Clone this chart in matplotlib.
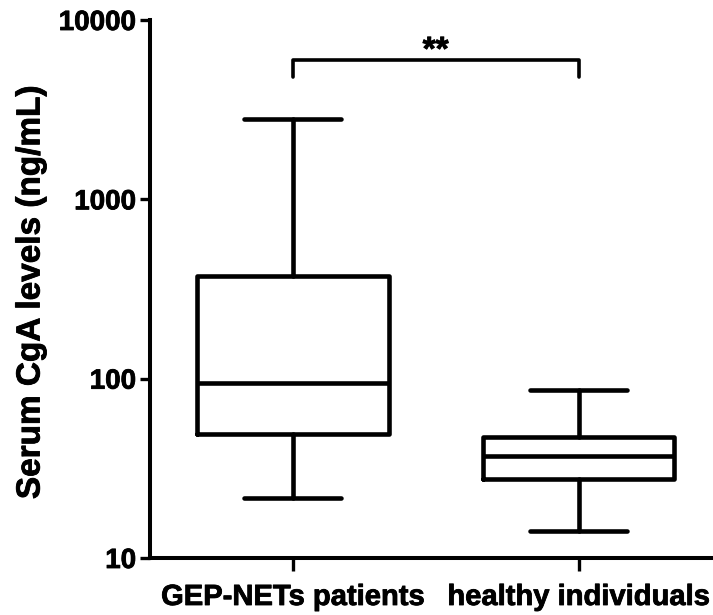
import matplotlib
matplotlib.use("Agg")
import matplotlib.pyplot as plt
import matplotlib.patheffects as pe

# box statistics (ng/mL)
groups = ["GEP-NETs patients", "healthy individuals"]
whisker_low = [21.6, 14.2]
q1 = [49.0, 27.7]
median = [94.0, 37.2]
q3 = [372.0, 47.5]
whisker_high = [2790.0, 86.8]

yticks = [10, 100, 1000, 10000]
ytick_labels = ["10", "100", "1000", "10000"]

bracket_top = 6000
bracket_leg = 4800
sig_label = "**"

plt.rcParams["font.family"] = ["Liberation Sans", "DejaVu Sans"]
plt.rcParams["font.weight"] = "bold"

heavy = [pe.withStroke(linewidth=0.6, foreground="black")]

fig = plt.figure(figsize=(7.13, 6.15), dpi=100)
ax = fig.add_axes([150 / 713, 57 / 615, 563 / 713, 538 / 615])

stats = []
for i in range(len(groups)):
    stats.append({
        "label": groups[i],
        "whislo": whisker_low[i],
        "q1": q1[i],
        "med": median[i],
        "q3": q3[i],
        "whishi": whisker_high[i],
    })

lw = 3.3
line_style = dict(color="black", linewidth=lw, solid_capstyle="round", solid_joinstyle="round")
positions = [1, 2]
ax.bxp(stats, positions=positions, widths=0.67, capwidths=0.34, showfliers=False,
       boxprops=line_style, whiskerprops=line_style, capprops=line_style,
       medianprops=dict(color="black", linewidth=lw))

ax.set_yscale("log")
ax.set_ylim(10, 10000)
ax.set_xlim(0.5, 2.47)
ax.set_yticks(yticks)
ax.set_yticklabels(ytick_labels)
ax.minorticks_off()
ax.set_xticks(positions)
ax.set_xticklabels(groups)

for side in ["top", "right"]:
    ax.spines[side].set_visible(False)
for side in ["left", "bottom"]:
    ax.spines[side].set_linewidth(2.9)
ax.tick_params(axis="y", length=7, width=2.4, labelsize=20, pad=3)
ax.tick_params(axis="x", length=9, width=2.4, labelsize=21, pad=9)
for lab in ax.get_xticklabels() + ax.get_yticklabels():
    lab.set_path_effects(heavy)

# significance bracket
ax.plot([1, 1, 2, 2], [bracket_leg, bracket_top, bracket_top, bracket_leg],
        color="black", linewidth=2.6, solid_capstyle="round", clip_on=False)
ax.text(1.5, bracket_top, sig_label, ha="center", va="baseline", fontsize=24,
        fontweight="bold", path_effects=heavy)

fig.text(31 / 713, 1 - 292 / 615, "Serum CgA levels (ng/mL)", rotation=90,
         ha="center", va="center", fontsize=24, fontweight="bold", path_effects=heavy)

fig.savefig("out.png", dpi=100)
